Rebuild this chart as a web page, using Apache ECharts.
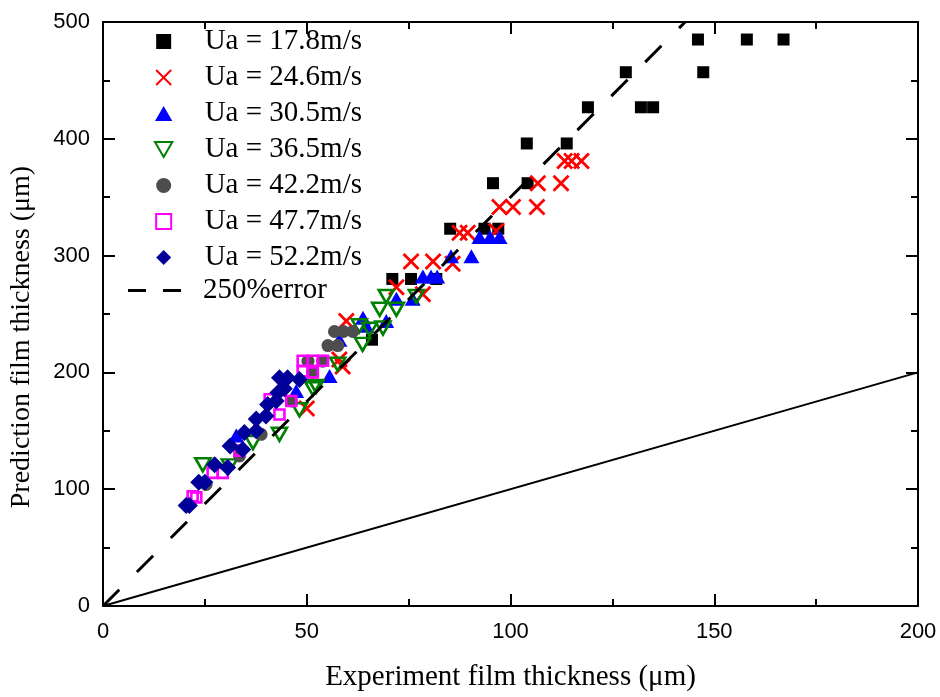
<!DOCTYPE html>
<html>
<head>
<meta charset="utf-8">
<script src="https://cdn.jsdelivr.net/npm/echarts@6/dist/echarts.min.js"></script>
<style>html,body{margin:0;padding:0;background:#fff}#c{width:940px;height:697px}</style>
</head>
<body>
<div id="c"></div>
<script>
// ---- data (Experiment thickness, Prediction thickness) ----
const seriesNames = ['Ua = 17.8m/s','Ua = 24.6m/s','Ua = 30.5m/s','Ua = 36.5m/s','Ua = 42.2m/s','Ua = 47.7m/s','Ua = 52.2m/s'];
const lineName = '250%error';
const xTitle = 'Experiment film thickness (μm)';
const yTitle = 'Prediction film thickness (μm)';

const s178 = [[146,485],[158,485],[167,485],[128.3,457],[147.3,457],[119,427],[132,427],[135,427],[104,396],[113.8,396],[95.7,362],[104.2,362],[85.2,323],[93.6,323],[97,323],[71,280],[75.6,280],[81.8,280],[66,228]];
const s246 = [[113.3,381],[115,381],[117.4,381],[106.7,362],[112.4,362],[97.3,341.6],[100.6,341.6],[106.5,341.6],[87.5,319.5],[89.5,319.5],[96.5,321],[75.6,295],[81,295],[85.8,293],[72,273],[78.5,267],[59.7,244],[58,211],[58.8,205],[50,169]];
const s305 = [[92.4,316],[95,316],[97.3,316],[85.4,299.5],[90.4,299.5],[78.5,282],[80.5,282],[82,282],[72,263],[76,263],[63.8,246.7],[69.5,244],[64.6,240],[58,228],[55.6,197],[47.4,184],[32.7,146]];
const s365 = [[69.5,265],[76.9,265],[67.9,254],[72,254],[62.9,240],[68.7,238],[65.4,237],[63.7,224],[57.6,207],[52.3,188],[51.5,186],[48.2,168],[43.3,147],[36.8,140],[31,120],[24.5,121]];
const s422 = [[56.8,235],[59,235],[61.3,235],[55.2,223],[57.6,223],[50.3,209.6],[53.9,209.6],[51.4,200],[46.2,175.5],[38.8,147],[33.5,128.5],[25.3,104]];
const s477 = [[49,210],[51.5,210],[54,210],[49,201],[51.5,200],[46.2,175.5],[43.3,164],[40.9,177],[33.5,133],[29.4,114],[26.9,114],[22,94],[22.9,93]];
const s522 = [[20.4,86],[21.2,86],[23.5,106],[25,106],[27.4,121],[30.6,118.5],[31.2,137],[34.3,134],[34.7,148.5],[37.6,150],[37.6,160],[40,162.6],[40.4,172.6],[42.5,175.5],[42.9,182.6],[44.5,186],[43.3,195.5],[45.3,195.5],[48.2,194]];
const errorLine = [[0,0],[142.86,500]];   // y = 3.5x  (+250%)
const equalLine = [[0,0],[200,200]];      // y = x

const xRange = [0, 200], xStep = 50;
const yRange = [0, 500], yStep = 100;

const chart = echarts.init(document.getElementById('c'), null, {renderer:'canvas'});
const serif = '"Liberation Serif","Times New Roman",serif';
const sans = '"Liberation Sans",Arial,sans-serif';

const SQ = 'path://M0,0h10v10h-10z';
const TRI = 'path://M5,0L10,8.66L0,8.66Z';
const DTRI = 'path://M0,0L10,0L5,8.66Z';
const DIA = 'path://M5,0L10,5L5,10L0,5Z';
const XS = 'path://M0,0L10,10M10,0L0,10';

function axisCommon(show, margin) {
  return {
    axisLine:{show:true,onZero:false,lineStyle:{color:'#000',width:2}},
    axisTick:{show:true,inside:true,length:12,lineStyle:{color:'#000',width:2}},
    minorTick:{show:true,splitNumber:2,length:7,lineStyle:{color:'#000',width:2}},
    splitLine:{show:false},
    axisLabel:{show:show,color:'#000',fontFamily:sans,fontSize:22,margin:margin||8}
  };
}

const legendText = {fontFamily:serif,fontSize:29,color:'#000',lineHeight:26};

const option = {
  backgroundColor:'#fff',
  animation:false,
  grid:{left:103,right:22,top:22,bottom:90},
  legend:[{
    orient:'vertical', left:149, top:22, itemWidth:54, itemHeight:15, itemGap:7,
    textStyle:Object.assign({padding:[0,0,0,9]}, legendText),
    data:seriesNames
  },{
    orient:'vertical', left:123, top:271, itemWidth:53, itemHeight:15,
    textStyle:Object.assign({padding:[0,0,0,17]}, legendText),
    data:[{name:lineName, icon:'path://M0,0h18v3h-18z M35,0h18v3h-18z', itemStyle:{color:'#000'}}]
  }],
  xAxis:[
    Object.assign({type:'value',min:xRange[0],max:xRange[1],interval:xStep,position:'bottom',
      name:xTitle,nameLocation:'middle',nameGap:57,
      nameTextStyle:{fontFamily:serif,fontSize:29,color:'#000'}}, axisCommon(true,15)),
    Object.assign({type:'value',min:xRange[0],max:xRange[1],interval:xStep,position:'top'}, axisCommon(false))
  ],
  yAxis:[
    Object.assign({type:'value',min:yRange[0],max:yRange[1],interval:yStep,position:'left'}, axisCommon(true,13)),
    Object.assign({type:'value',min:yRange[0],max:yRange[1],interval:yStep,position:'right'}, axisCommon(false))
  ],
  graphic:[{type:'text',x:22,y:337,rotation:Math.PI/2,silent:true,
    style:{text:yTitle,font:'28px '+serif,fill:'#000',align:'center',verticalAlign:'middle'}}],
  series:[
    {name:seriesNames[0],type:'scatter',data:s178,symbol:SQ,symbolSize:12,itemStyle:{color:'#000',opacity:1},z:2},
    {name:seriesNames[1],type:'scatter',data:s246,symbol:XS,symbolSize:15,
      itemStyle:{color:'rgba(0,0,0,0)',borderColor:'#ff0000',borderWidth:2.8,opacity:1},z:2},
    {name:seriesNames[2],type:'scatter',data:s305,symbol:TRI,symbolSize:[16,14],itemStyle:{color:'#0000ff',opacity:1},z:2},
    {name:seriesNames[3],type:'scatter',data:s365,symbol:DTRI,symbolSize:[15,13],
      itemStyle:{color:'rgba(0,0,0,0)',borderColor:'#008000',borderWidth:2.6,opacity:1},z:2},
    {name:seriesNames[4],type:'scatter',data:s422,symbol:'circle',symbolSize:13,itemStyle:{color:'#4d4d4d',opacity:1},z:2},
    {name:seriesNames[5],type:'scatter',data:s477,symbol:SQ,symbolSize:10,
      itemStyle:{color:'rgba(0,0,0,0)',borderColor:'#ff00ff',borderWidth:2.6,opacity:1},z:2},
    {name:seriesNames[6],type:'scatter',data:s522,symbol:DIA,symbolSize:17,itemStyle:{color:'#000099',opacity:1},z:2},
    {name:lineName,type:'line',data:errorLine,symbol:'none',lineStyle:{color:'#000',width:3,type:[23,25]},itemStyle:{color:'#000'},z:3},
    {name:'equal',type:'line',data:equalLine,symbol:'none',lineStyle:{color:'#000',width:2},z:3}
  ]
};
chart.setOption(option);
</script>
</body>
</html>
